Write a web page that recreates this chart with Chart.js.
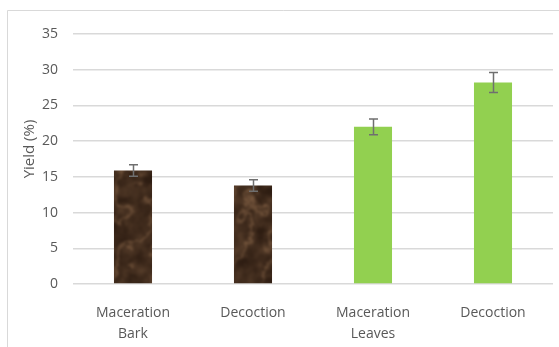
<!DOCTYPE html>
<html>
<head>
<meta charset="utf-8">
<script src="https://cdn.jsdelivr.net/npm/chart.js@4"></script>
<style>
  html, body { margin: 0; padding: 0; background: #ffffff; }
  #wrap { width: 559px; height: 347px; position: relative; }
</style>
</head>
<body>
<div id="wrap"><canvas id="c" width="559" height="347"></canvas></div>
<script>
// Extraction yield by method and plant part
const categories = [["Maceration", "Bark"], ["Decoction", ""], ["Maceration", "Leaves"], ["Decoction", ""]];
const yieldValues = [15.9, 13.8, 22.0, 28.2];
const yieldErrors = [0.8, 0.8, 1.1, 1.4];
const yTicks = [0, 5, 10, 15, 20, 25, 30, 35];
const yTitle = 'Yield (%)';

// Bark-like marbled texture built from a deterministic value-noise field
function hash(x, y) {
  const s = Math.sin(x * 127.1 + y * 311.7) * 43758.5453;
  return s - Math.floor(s);
}
function smoothNoise(x, y) {
  const xi = Math.floor(x), yi = Math.floor(y);
  const xf = x - xi, yf = y - yi;
  const u = xf * xf * (3 - 2 * xf), v = yf * yf * (3 - 2 * yf);
  const a = hash(xi, yi), b = hash(xi + 1, yi), c = hash(xi, yi + 1), d = hash(xi + 1, yi + 1);
  return a + (b - a) * u + (c - a) * v + (a - b - c + d) * u * v;
}
function fbm(x, y) {
  let t = 0, amp = 0.5, f = 1;
  for (let o = 0; o < 5; o++) { t += amp * smoothNoise(x * f, y * f); f *= 2; amp *= 0.5; }
  return t;
}
function barkPattern(ctx, w, h) {
  const cv = document.createElement('canvas');
  cv.width = w; cv.height = h;
  const g = cv.getContext('2d');
  const img = g.createImageData(w, h);
  for (let y = 0; y < h; y++) {
    for (let x = 0; x < w; x++) {
      const n = fbm(x / 10, y / 10);
      const warp = fbm(x / 18 + 5.2, y / 18 + 1.3);
      const vein = Math.abs(Math.sin(x * 0.09 + y * 0.04 + warp * 7.0));
      const light = Math.pow(1 - vein, 4) * 0.5 + (n - 0.5) * 0.65;
      const base = [46, 29, 18];
      const hi = [140, 104, 74];
      const t = Math.max(0, Math.min(1, 0.18 + light));
      const i = (y * w + x) * 4;
      img.data[i] = base[0] + (hi[0] - base[0]) * t;
      img.data[i + 1] = base[1] + (hi[1] - base[1]) * t;
      img.data[i + 2] = base[2] + (hi[2] - base[2]) * t;
      img.data[i + 3] = 255;
    }
  }
  g.putImageData(img, 0, 0);
  // soften the grain a little
  const soft = document.createElement('canvas');
  soft.width = w; soft.height = h;
  const sg = soft.getContext('2d');
  sg.filter = 'blur(0.8px)';
  sg.drawImage(cv, 0, 0);
  return ctx.createPattern(soft, 'repeat');
}

const canvas = document.getElementById('c');
const ctx = canvas.getContext('2d');
const bark = barkPattern(ctx, 320, 347);
const green = '#92d050';
const barColors = [bark, bark, green, green];

// Outer frame of the chart box
const framePlugin = {
  id: 'frame',
  beforeDraw(chart) {
    const c = chart.ctx;
    c.save();
    c.fillStyle = '#ffffff';
    c.fillRect(0, 0, chart.width, chart.height);
    c.strokeStyle = '#d9d9d9';
    c.lineWidth = 1;
    c.beginPath();
    c.moveTo(7.5, chart.height);
    c.lineTo(7.5, 10.5);
    c.lineTo(chart.width, 10.5);
    c.stroke();
    c.restore();
  }
};

// Rotated y-axis title, placed a little above the plot's middle
const yTitlePlugin = {
  id: 'yTitle',
  afterDraw(chart) {
    const c = chart.ctx;
    const area = chart.chartArea;
    const cy = area.top + (area.bottom - area.top) * 0.46;
    c.save();
    c.translate(30, cy);
    c.rotate(-Math.PI / 2);
    c.fillStyle = '#595959';
    c.font = '15px "Open Sans"';
    c.textAlign = 'center';
    c.textBaseline = 'middle';
    c.fillText(yTitle, 0, 0);
    c.restore();
  }
};

// Error bars (mean ± error) drawn through the y scale
const errorBarPlugin = {
  id: 'errorBars',
  afterDatasetsDraw(chart) {
    const c = chart.ctx;
    const yScale = chart.scales.y;
    const meta = chart.getDatasetMeta(0);
    c.save();
    c.strokeStyle = '#6f6f6f';
    c.lineWidth = 1.5;
    meta.data.forEach((bar, i) => {
      const v = yieldValues[i], e = yieldErrors[i];
      const yTop = yScale.getPixelForValue(v + e);
      const yBot = yScale.getPixelForValue(v - e);
      const x = Math.round(bar.x) + 0.5;
      c.beginPath();
      c.moveTo(x, yTop); c.lineTo(x, yBot);
      c.moveTo(x - 4.5, yTop); c.lineTo(x + 4.5, yTop);
      c.moveTo(x - 4.5, yBot); c.lineTo(x + 4.5, yBot);
      c.stroke();
    });
    c.restore();
  }
};

new Chart(canvas, {
  type: 'bar',
  data: {
    labels: categories,
    datasets: [{
      data: yieldValues,
      backgroundColor: barColors,
      borderWidth: 0,
      barPercentage: 0.317,
      categoryPercentage: 1.0
    }]
  },
  options: {
    responsive: false,
    animation: false,
    devicePixelRatio: 1,
    layout: { padding: { left: 7, top: 34, right: 6, bottom: 0 } },
    plugins: {
      legend: { display: false },
      tooltip: { enabled: false }
    },
    scales: {
      x: {
        grid: { display: false, drawTicks: false },
        border: { display: false },
        ticks: {
          color: '#595959',
          font: { family: 'Open Sans', size: 14, lineHeight: 1.5 },
          padding: 19,
          maxRotation: 0,
          autoSkip: false
        },
        afterFit(scale) { scale.height = 63; }
      },
      y: {
        min: 0,
        max: 35,
        afterBuildTicks(scale) { scale.ticks = yTicks.map(v => ({ value: v })); },
        grid: { color: '#d9d9d9', lineWidth: 1.5, drawTicks: false },
        border: { display: false },
        ticks: {
          color: '#595959',
          font: { family: 'Open Sans', size: 14 },
          padding: 15
        },
        title: { display: false },
        afterFit(scale) { scale.width = 66; }
      }
    }
  },
  plugins: [framePlugin, errorBarPlugin, yTitlePlugin]
});
</script>
</body>
</html>
